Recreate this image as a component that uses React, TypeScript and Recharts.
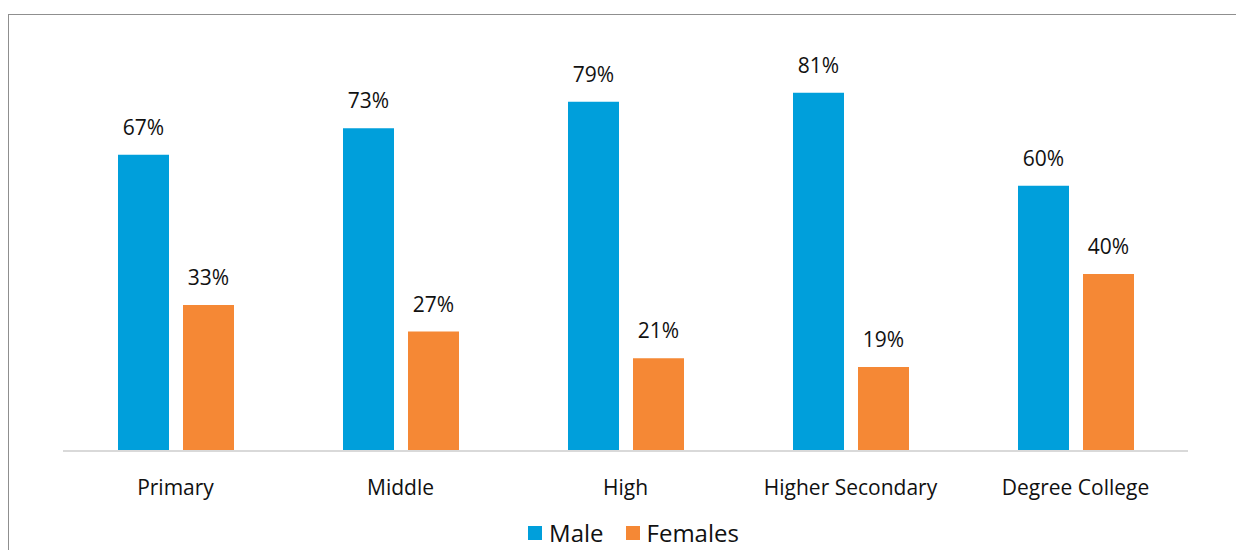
import { Bar, BarChart, LabelList, Legend, XAxis, YAxis } from 'recharts'

const levels = ['Primary', 'Middle', 'High', 'Higher Secondary', 'Degree College']
const male = [67, 73, 79, 81, 60]
const females = [33, 27, 21, 19, 40]
const seriesNames = ['Male', 'Females']
const seriesColors = ['#009FDB', '#F58835']

const data = levels.map((level, i) => ({ level, male: male[i], females: females[i] }))

const FONT = '"Open Sans", "Noto Sans", sans-serif'

// legend sits a little right of the plot centre in the original
function SimpleLegend() {
  return (
    <div style={{ display: 'flex', justifyContent: 'center', alignItems: 'center', paddingLeft: 16, fontFamily: FONT, fontSize: 24, color: '#111' }}>
      {seriesNames.map((name, i) => (
        <div key={name} style={{ display: 'flex', alignItems: 'center', marginRight: i === 0 ? 22 : 0 }}>
          <span style={{ display: 'inline-block', width: 14, height: 14, background: seriesColors[i], marginRight: 7 }} />
          <span>{name}</span>
        </div>
      ))}
    </div>
  )
}

export default function App() {
  return (
    <div style={{ paddingTop: 6 }}>
      <div
        style={{
          borderTop: '1px solid #8f8f8f',
          borderLeft: '1px solid #8f8f8f',
          width: 1240,
          height: 540,
          boxSizing: 'border-box',
        }}
      >
        <BarChart
          width={1236}
          height={538}
          data={data}
          margin={{ top: 38, right: 57, bottom: 8, left: 54 }}
          barSize={51}
          barGap={14}
        >
          <XAxis
            dataKey="level"
            axisLine={{ stroke: '#D9D9D9', strokeWidth: 2 }}
            tickLine={false}
            tick={{ fill: '#111', fontSize: 21, fontFamily: FONT }}
            tickMargin={23}
            height={61}
          />
          <YAxis hide domain={[0, 90]} />
          <Legend verticalAlign="bottom" content={<SimpleLegend />} wrapperStyle={{ bottom: 4 }} />
          <Bar dataKey="male" name={seriesNames[0]} fill={seriesColors[0]} isAnimationActive={false}>
            <LabelList
              dataKey="male"
              position="top"
              offset={20}
              formatter={(v: number) => `${v}%`}
              style={{ fill: '#111', fontSize: 21, fontFamily: FONT }}
            />
          </Bar>
          <Bar dataKey="females" name={seriesNames[1]} fill={seriesColors[1]} isAnimationActive={false}>
            <LabelList
              dataKey="females"
              position="top"
              offset={20}
              formatter={(v: number) => `${v}%`}
              style={{ fill: '#111', fontSize: 21, fontFamily: FONT }}
            />
          </Bar>
        </BarChart>
      </div>
    </div>
  )
}
